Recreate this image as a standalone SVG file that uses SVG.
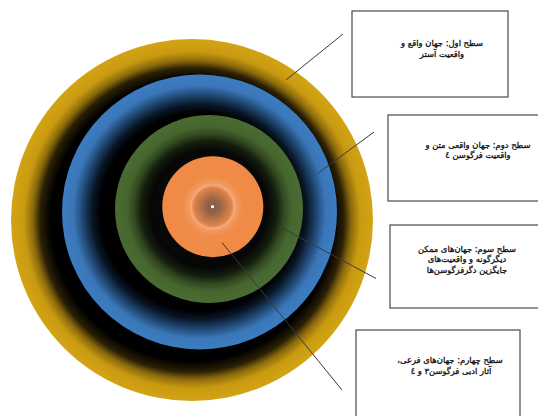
<svg xmlns="http://www.w3.org/2000/svg" width="538" height="416" viewBox="0 0 538 416">
<defs>
<radialGradient id="gY" cx="0.5" cy="0.5" r="0.5">
<stop offset="0" stop-color="#000"/>
<stop offset="0.78" stop-color="#000"/>
<stop offset="0.84" stop-color="#2a2005"/>
<stop offset="0.88" stop-color="#8a690c"/>
<stop offset="0.93" stop-color="#c99a10"/>
<stop offset="1" stop-color="#d2a414"/>
</radialGradient>
<radialGradient id="gB" cx="0.5" cy="0.5" r="0.5">
<stop offset="0" stop-color="#000"/>
<stop offset="0.72" stop-color="#000"/>
<stop offset="0.78" stop-color="#081524"/>
<stop offset="0.85" stop-color="#1f4670"/>
<stop offset="0.92" stop-color="#3a77b9"/>
<stop offset="1" stop-color="#3c7cc0"/>
</radialGradient>
<radialGradient id="gG" cx="0.5" cy="0.5" r="0.5">
<stop offset="0" stop-color="#121612"/>
<stop offset="0.62" stop-color="#050605"/>
<stop offset="0.72" stop-color="#141d0e"/>
<stop offset="0.8" stop-color="#33491f"/>
<stop offset="0.88" stop-color="#46662f"/>
<stop offset="1" stop-color="#4a6b32"/>
</radialGradient>
<radialGradient id="gO" cx="0.5" cy="0.5" r="0.5">
<stop offset="0" stop-color="#7e5a48"/>
<stop offset="0.15" stop-color="#9a6448"/>
<stop offset="0.38" stop-color="#e08448"/>
<stop offset="0.43" stop-color="#f6aa80"/>
<stop offset="0.47" stop-color="#f29a60"/>
<stop offset="0.6" stop-color="#f08b48"/>
<stop offset="1" stop-color="#f08a46"/>
</radialGradient>
<style>
.box{fill:#fff;stroke:#4a4a4a;stroke-width:1.2}
.t{font-family:"DejaVu Sans","Liberation Sans",sans-serif;font-size:8.4px;fill:#111;stroke:#111;stroke-width:0.3;text-anchor:middle;direction:rtl}
.c{stroke:#3a3a3a;stroke-width:1;fill:none}
</style>
</defs>
<g id="rings">
<circle id="ring1" cx="192" cy="220" r="181" fill="url(#gY)"/>
<circle id="ring2" cx="199.5" cy="212" r="137.5" fill="url(#gB)"/>
<circle id="ring3" cx="209" cy="209" r="94" fill="url(#gG)"/>
<circle id="ring4" cx="212.8" cy="206.7" r="50.5" fill="url(#gO)"/>
<circle cx="212.5" cy="206.7" r="1.6" fill="#fff"/>
</g>
<g id="connectors">
<line class="c" x1="286" y1="80" x2="343" y2="34"/>
<line class="c" x1="317.5" y1="173.5" x2="374" y2="132"/>
<line class="c" x1="282" y1="228" x2="376" y2="278.5"/>
<line class="c" x1="222" y1="242.5" x2="342" y2="390"/>
</g>
<g id="box1">
<rect class="box" x="352" y="11" width="156" height="86"/>
<text class="t" x="442" y="46">سطح اول: جهان واقع و</text>
<text class="t" x="442" y="57">واقعیت آستر</text>
</g>
<g id="box2">
<rect class="box" x="388" y="115" width="180" height="86"/>
<text class="t" x="478" y="147.5">سطح دوم: جهان واقعی متن و</text>
<text class="t" x="478" y="158">واقعیت فرگوسن ٤</text>
</g>
<g id="box3">
<rect class="box" x="390" y="225" width="155" height="83"/>
<text class="t" x="467" y="251.5">سطح سوم: جهان‌های ممکن</text>
<text class="t" x="467" y="262">دیگرگونه و واقعیت‌های</text>
<text class="t" x="467" y="272.5">جایگزین دگرفرگوسن‌ها</text>
</g>
<g id="box4">
<rect class="box" x="356" y="330" width="164" height="100"/>
<text class="t" x="450" y="363">سطح چهارم: جهان‌های فرعی،</text>
<text class="t" x="451" y="374">آثار ادبی فرگوسن٣ و ٤</text>
</g>
</svg>
